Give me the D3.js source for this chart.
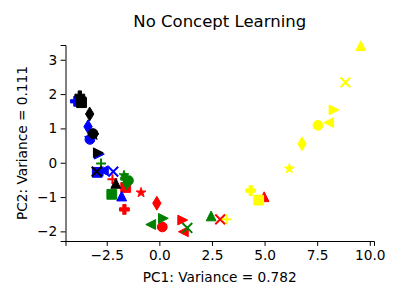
<!DOCTYPE html>
<html>
<head>
<meta charset="utf-8">
<script src="https://cdn.jsdelivr.net/npm/d3@7"></script>
<style>
  html, body { margin: 0; padding: 0; background: #fff; }
  svg { display: block; font-family: "DejaVu Sans", sans-serif; }
</style>
</head>
<body>
<svg id="chart" width="400" height="300"></svg>
<script>
// Marker shapes used for each series (one point per shape)
const shapes = ["o", "s", "^", "<", ">", "d", "*", "P", "x", "+"];

// Series: PC1 / PC2 coordinates, in the order of `shapes`
const redX    = [0.14, -1.60, 4.98, 1.14, 1.11, -0.12, -0.87, -1.66, 2.89, -2.23];
const redY    = [-1.87, -0.72, -0.99, -2.01, -1.67, -1.18, -0.87, -1.36, -1.65, -0.48];
const greenX  = [-1.47, -2.26, 2.46, -0.41, 0.19, -1.55, -1.68, -1.60, 1.33, -2.77];
const greenY  = [-0.52, -0.92, -1.55, -1.80, -1.62, -0.58, -0.37, -0.46, -1.90, -0.02];
const blueX   = [-3.30, -2.95, -1.79, -2.66, -2.85, -3.39, -3.32, -3.99, -2.19, -2.70];
const blueY   = [0.68, -0.28, -0.97, -0.23, 0.25, 1.05, 0.72, 1.79, -0.26, -0.25];
const blackX  = [-3.15, -3.70, -2.07, -3.72, -2.90, -3.31, -3.10, -3.78, -2.98, -3.75];
const blackY  = [0.85, 1.75, -0.60, 1.78, 0.29, 1.42, 0.80, 1.95, -0.26, 1.85];
const yellowX = [7.54, 4.72, 9.57, 8.05, 8.30, 6.78, 6.18, 4.34, 8.84, 3.20];
const yellowY = [1.09, -1.09, 3.41, 1.17, 1.54, 0.55, -0.17, -0.81, 2.34, -1.65];

const seriesNames  = ["red", "green", "blue", "black", "yellow"];
const seriesColors = ["#ff0000", "#008000", "#0000ff", "#000000", "#ffff00"];
const seriesXs = [redX, greenX, blueX, blackX, yellowX];
const seriesYs = [redY, greenY, blueY, blackY, yellowY];

const xTicks = [-2.5, 0, 2.5, 5, 7.5, 10];
const yTicks = [-2, -1, 0, 1, 2, 3];

const titleText = "No Concept Learning";
const xLabelText = "PC1: Variance = 0.782";
const yLabelText = "PC2: Variance = 0.111";

// Layout
const plotLeft = 65.5, plotRight = 374, plotTop = 45, plotBottom = 241;
const x = d3.scaleLinear().domain([-4.46, 10.2]).range([plotLeft, plotRight]);
const y = d3.scaleLinear().domain([-2.28, 3.43]).range([plotBottom, plotTop]);

const svg = d3.select("#chart");
const tickFont = "13.7px";

// Axes
const xAxis = d3.axisBottom(x).tickValues(xTicks).tickSizeOuter(0).tickSize(4.9).tickPadding(3.5)
  .tickFormat(d => d3.format(".1f")(d));
const yAxis = d3.axisLeft(y).tickValues(yTicks).tickSizeOuter(0).tickSize(4.9).tickPadding(3.5)
  .tickFormat(d3.format("d"));

const gx = svg.append("g").attr("transform", `translate(0,${plotBottom})`).call(xAxis);
const gy = svg.append("g").attr("transform", `translate(${plotLeft},0)`).call(yAxis);
[gx, gy].forEach(g => {
  g.selectAll("text").attr("font-family", "DejaVu Sans").attr("font-size", tickFont).attr("fill", "#000");
  g.selectAll("line").attr("stroke", "#000").attr("stroke-width", 1);
  g.select(".domain").attr("stroke", "#000").attr("stroke-width", 1);
});
gx.selectAll("text").attr("dy", "0.75em").attr("y", 8.6);

// Marker paths (matplotlib-like)
const S = 9.8;
function markerPath(shape) {
  const h = S / 2;
  switch (shape) {
    case "o": return `M${h},0A${h},${h},0,1,1,${-h},0A${h},${h},0,1,1,${h},0Z`;
    case "s": return `M${-h},${-h}L${h},${-h}L${h},${h}L${-h},${h}Z`;
    case "^": return `M0,${-h}L${-h},${h}L${h},${h}Z`;
    case "<": return `M${-h},0L${h},${-h}L${h},${h}Z`;
    case ">": return `M${h},0L${-h},${-h}L${-h},${h}Z`;
    case "d": {
      const dh = S * Math.SQRT2 / 2, dw = 0.6 * dh;
      return `M0,${-dh}L${dw},0L0,${dh}L${-dw},0Z`;
    }
    case "*": {
      const R = S / 2 * 1.05, r = R * 0.381966;
      let p = "";
      for (let i = 0; i < 10; i++) {
        const a = -Math.PI / 2 + i * Math.PI / 5;
        const rr = i % 2 === 0 ? R : r;
        p += (i === 0 ? "M" : "L") + (rr * Math.cos(a)).toFixed(2) + "," + (rr * Math.sin(a)).toFixed(2);
      }
      return p + "Z";
    }
    case "P": {
      const a = S / 6;
      return `M${-a},${-h}L${a},${-h}L${a},${-a}L${h},${-a}L${h},${a}L${a},${a}L${a},${h}L${-a},${h}L${-a},${a}L${-h},${a}L${-h},${-a}L${-a},${-a}Z`;
    }
    case "x": return `M${-h},${-h}L${h},${h}M${-h},${h}L${h},${-h}`;
    case "+": return `M${-h},0L${h},0M0,${-h}L0,${h}`;
  }
}

const points = [];
seriesNames.forEach((name, si) => {
  shapes.forEach((sh, i) => {
    points.push({ series: name, color: seriesColors[si], shape: sh, px: seriesXs[si][i], py: seriesYs[si][i] });
  });
});

svg.append("g").selectAll("path").data(points).join("path")
  .attr("transform", d => `translate(${x(d.px)},${y(d.py)})`)
  .attr("d", d => markerPath(d.shape))
  .attr("fill", d => (d.shape === "x" || d.shape === "+") ? "none" : d.color)
  .attr("stroke", d => d.color)
  .attr("stroke-width", d => (d.shape === "x" || d.shape === "+") ? 2 : 1);

// Title and labels
svg.append("text").attr("x", (plotLeft + plotRight) / 2).attr("y", 27).attr("text-anchor", "middle")
  .attr("font-size", "16.5px").attr("fill", "#000").text(titleText);
svg.append("text").attr("x", (plotLeft + plotRight) / 2).attr("y", 281.5).attr("text-anchor", "middle")
  .attr("font-size", tickFont).attr("fill", "#000").text(xLabelText);
svg.append("text").attr("transform", `translate(26.5,${(plotTop + plotBottom) / 2}) rotate(-90)`)
  .attr("text-anchor", "middle").attr("font-size", tickFont).attr("fill", "#000").text(yLabelText);
</script>
</body>
</html>
